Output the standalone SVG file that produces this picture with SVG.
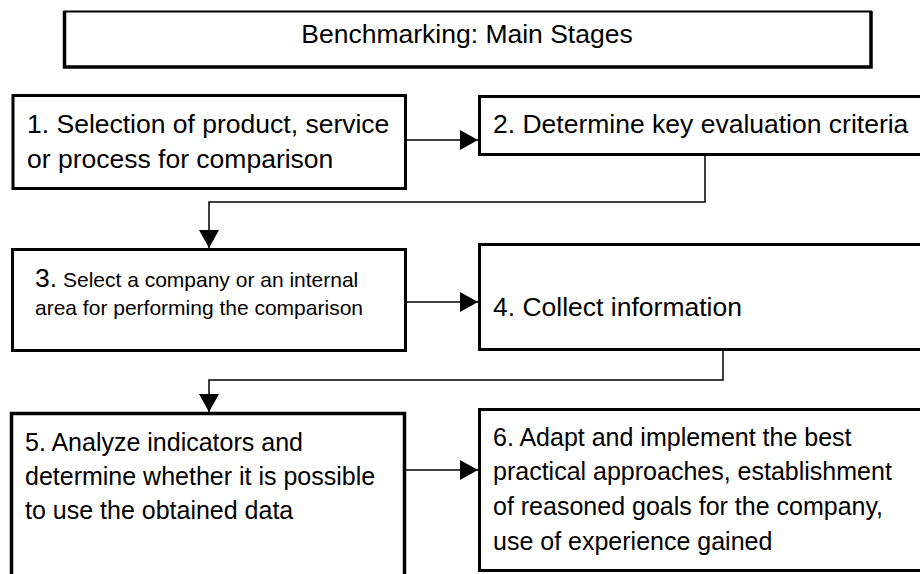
<svg xmlns="http://www.w3.org/2000/svg" width="920" height="574" viewBox="0 0 920 574">
<defs>
<style>
.box{fill:#fff;stroke:#000;stroke-width:3}
.t{font-family:"Liberation Sans",Arial,sans-serif;fill:#000}
.big{font-size:26.5px}
.mid{font-size:25px}
.sm{font-size:21px}
.c{fill:none;stroke:#000;stroke-width:1.5}
</style>
<marker id="ah" markerUnits="userSpaceOnUse" markerWidth="18" markerHeight="20" refX="18" refY="10" orient="auto" viewBox="0 0 18 20">
<path d="M0,0 L18,10 L0,20 z" fill="#000"/>
</marker>
</defs>
<rect width="920" height="574" fill="#fff"/>
<g id="title">
<rect x="64.5" y="11.5" width="806.5" height="55.5" fill="#fff" stroke="#000" stroke-width="2"/>
<path d="M64.5,11 V67 H871 V11" fill="none" stroke="#000" stroke-width="3.5"/>
<text class="t big" x="467" y="43" text-anchor="middle">Benchmarking: Main Stages</text>
</g>
<g id="n1">
<rect class="box" x="13" y="95.5" width="392.5" height="93"/>
<text class="t big" x="27" y="133">1. Selection of product, service</text>
<text class="t big" x="27" y="168">or process for comparison</text>
</g>
<g id="n2">
<rect class="box" x="479.5" y="96.5" width="460" height="58"/>
<text class="t big" x="493" y="133">2. Determine key evaluation criteria</text>
</g>
<g id="n3">
<rect class="box" x="12.5" y="249.5" width="393" height="101"/>
<text class="t sm" x="35" y="287"><tspan class="big">3.</tspan> Select a company or an internal</text>
<text class="t sm" x="35" y="315">area for performing the comparison</text>
</g>
<g id="n4">
<rect class="box" x="479.5" y="244.5" width="460" height="105"/>
<text class="t big" x="493" y="316">4. Collect information</text>
</g>
<g id="n5">
<rect class="box" x="11.5" y="413.5" width="393" height="200" style="stroke-width:3.5"/>
<text class="t mid" x="25" y="451">5. Analyze indicators and</text>
<text class="t mid" x="25" y="485">determine whether it is possible</text>
<text class="t mid" x="25" y="519">to use the obtained data</text>
</g>
<g id="n6">
<rect class="box" x="479.5" y="409.5" width="460" height="161"/>
<text class="t mid" x="493" y="446">6. Adapt and implement the best</text>
<text class="t mid" x="493" y="480">practical approaches, establishment</text>
<text class="t mid" x="493" y="515">of reasoned goals for the company,</text>
<text class="t mid" x="493" y="550">use of experience gained</text>
</g>
<g id="connectors">
<line class="c" x1="407" y1="140" x2="478" y2="140" marker-end="url(#ah)"/>
<polyline class="c" points="705,156 705,202 209,202 209,248" marker-end="url(#ah)"/>
<line class="c" x1="407" y1="302" x2="478" y2="302" marker-end="url(#ah)"/>
<polyline class="c" points="723,351 723,380 209,380 209,412" marker-end="url(#ah)"/>
<line class="c" x1="406" y1="470" x2="478" y2="470" marker-end="url(#ah)"/>
</g>
</svg>
